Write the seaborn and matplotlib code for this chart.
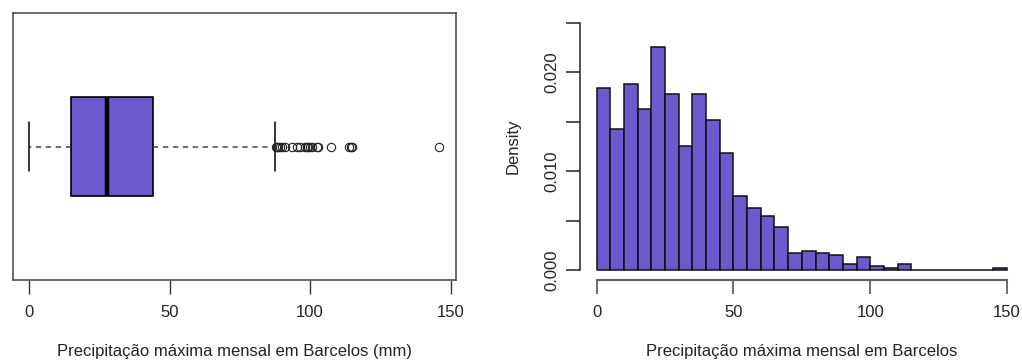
import numpy as np
import pandas as pd
import matplotlib
matplotlib.use("Agg")
import matplotlib.pyplot as plt
import seaborn as sns

# ---- data ----
box_q1 = 15.0
box_median = 27.7
box_q3 = 44.0
box_whislo = 0.0
box_whishi = 87.6
box_fliers = [88.0, 88.3, 88.7, 89.3, 89.9, 91.0, 93.5, 95.2, 96.4, 98.2, 98.8,
              99.4, 100.0, 100.6, 102.3, 102.9, 107.4, 113.9, 114.5, 114.8, 146.0]

bin_edges = list(range(0, 155, 5))
densities = [0.01841, 0.01425, 0.01885, 0.01628, 0.02261, 0.01777, 0.01252, 0.01777,
             0.01523, 0.01188, 0.00748, 0.00629, 0.00545, 0.00440, 0.00169, 0.00193,
             0.00169, 0.00149, 0.00061, 0.00129, 0.00041, 0.00020, 0.00061, 0.0, 0.0,
             0.0, 0.0, 0.0, 0.0, 0.00020]

x_ticks = [0, 50, 100, 150]
y_ticks = [0.000, 0.005, 0.010, 0.015, 0.020, 0.025]
y_ticklabels = ["0.000", "", "0.010", "", "0.020", ""]
box_xlabel = "Precipitação máxima mensal em Barcelos (mm)"
hist_xlabel = "Precipitação máxima mensal em Barcelos"
hist_ylabel = "Density"

FILL = "#6A5ACD"

sns.set_style("white")
plt.rcParams["font.family"] = ["Liberation Sans", "DejaVu Sans"]

W, H = 1022, 360
fig = plt.figure(figsize=(W / 100, H / 100), dpi=100)
FS = 12.0  # points


def ax_rect(l, r, t, b):
    return [l / W, 1 - b / H, (r - l) / W, (b - t) / H]


# ---- boxplot panel ----
ax1 = fig.add_axes(ax_rect(12.7, 455.7, 13, 280))
stats = [dict(med=box_median, q1=box_q1, q3=box_q3, whislo=box_whislo,
              whishi=box_whishi, fliers=box_fliers)]
ax1.bxp(stats, positions=[1], vert=False, widths=0.4, patch_artist=True,
        boxprops=dict(facecolor=FILL, edgecolor="black", linewidth=1.2),
        medianprops=dict(color="black", linewidth=3.2, solid_capstyle="butt"),
        whiskerprops=dict(color="#444444", linewidth=1.1, linestyle=(0, (3.5, 3))),
        capprops=dict(color="black", linewidth=1.1),
        capwidths=0.2,
        flierprops=dict(marker="o", markerfacecolor="none", markeredgecolor="#222222",
                        markersize=6.0, markeredgewidth=0.8))
ax1.set_xlim(-5.84, 151.84)
ax1.set_ylim(0.46, 1.54)
ax1.set_yticks([])
ax1.set_xticks(x_ticks)
ax1.set_xticklabels([str(t) for t in x_ticks], fontsize=FS, color="#222222")
ax1.tick_params(axis="x", direction="out", length=10, width=1, color="#333333",
                pad=8, bottom=True)
for s in ax1.spines.values():
    s.set_visible(True)
    s.set_color("#444444")
    s.set_linewidth(1.1)
ax1.set_xlabel(box_xlabel, fontsize=FS, color="#222222", labelpad=17)
ax1.set_ylabel("")

# ---- histogram panel ----
ax2 = fig.add_axes(ax_rect(580.3, 1023.4, 13, 280))
centers = [(bin_edges[i] + bin_edges[i + 1]) / 2 for i in range(len(densities))]
df = pd.DataFrame({"x": centers, "d": densities})
sns.histplot(data=df, x="x", weights="d", bins=bin_edges, stat="count",
             color=FILL, alpha=1.0, edgecolor="#111111", linewidth=1.1, ax=ax2)
ax2.set_xlim(-6, 156)
ax2.set_ylim(-0.001, 0.026)
for s in ax2.spines.values():
    s.set_visible(False)
ax2.spines["left"].set_visible(True)
ax2.spines["left"].set_bounds(0, 0.025)
ax2.spines["left"].set_color("#222222")
ax2.spines["left"].set_linewidth(1.1)
ax2.spines["bottom"].set_visible(True)
ax2.spines["bottom"].set_bounds(0, 150)
ax2.spines["bottom"].set_color("#666666")
ax2.spines["bottom"].set_linewidth(1.6)
ax2.set_yticks(y_ticks)
ax2.set_yticklabels(y_ticklabels, fontsize=FS, color="#222222", rotation=90, va="center")
ax2.set_xticks(x_ticks)
ax2.set_xticklabels([str(t) for t in x_ticks], fontsize=FS, color="#222222")
ax2.tick_params(axis="x", direction="out", length=10, width=1.2, color="#555555",
                pad=8, bottom=True)
ax2.tick_params(axis="y", direction="out", length=10, width=1.1, color="#222222",
                pad=5, left=True)
ax2.set_xlabel(hist_xlabel, fontsize=FS, color="#222222", labelpad=17)
ax2.set_ylabel(hist_ylabel, fontsize=FS, color="#222222", labelpad=17)

fig.savefig("out.png", dpi=100)
